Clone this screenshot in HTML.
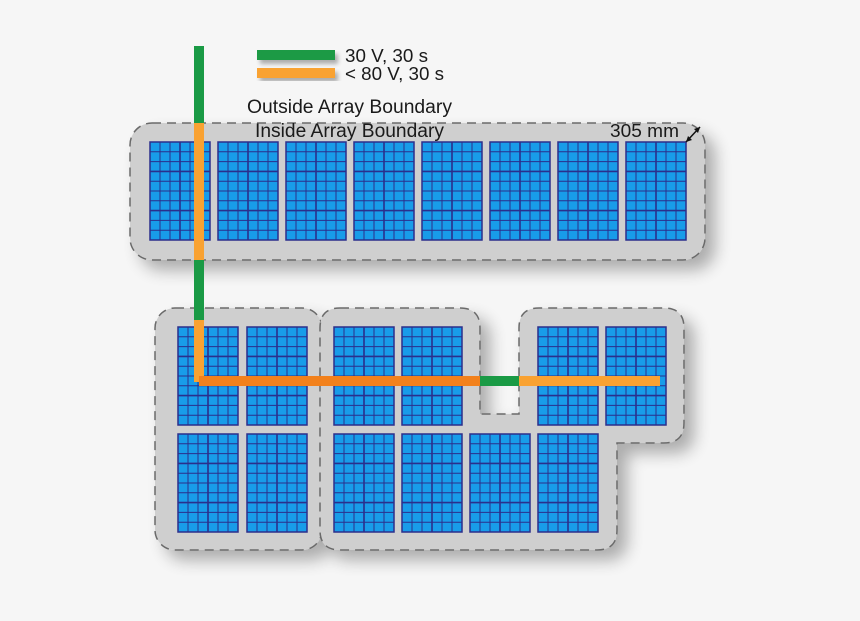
<!DOCTYPE html>
<html><head><style>
html,body{margin:0;padding:0;background:#f6f6f6;}
svg{display:block}
text{font-family:"Liberation Sans",sans-serif;fill:#1a1a1a}
</style></head><body>
<svg width="860" height="621" viewBox="0 0 860 621" xmlns="http://www.w3.org/2000/svg">
<defs>
<filter id="sh" x="-10%" y="-10%" width="130%" height="130%">
<feGaussianBlur in="SourceAlpha" stdDeviation="8"/>
<feOffset dx="10" dy="10"/>
<feComponentTransfer><feFuncA type="linear" slope="0.3"/></feComponentTransfer>
<feMerge><feMergeNode/><feMergeNode in="SourceGraphic"/></feMerge>
</filter>
<filter id="ls"><feGaussianBlur in="SourceAlpha" stdDeviation="2"/><feOffset dx="3" dy="4"/><feComponentTransfer><feFuncA type="linear" slope="0.3"/></feComponentTransfer><feMerge><feMergeNode/><feMergeNode in="SourceGraphic"/></feMerge></filter>
<g id="p">
<rect x="0" y="0" width="60" height="98" fill="#189ce9" stroke="#2b2f8c" stroke-width="1.5"/>
<g stroke="#2b2f8c" stroke-width="1">
<line x1="10" y1="0" x2="10" y2="98"/><line x1="20" y1="0" x2="20" y2="98"/><line x1="30" y1="0" x2="30" y2="98" stroke-width="1.6"/><line x1="40" y1="0" x2="40" y2="98"/><line x1="50" y1="0" x2="50" y2="98"/>
<line x1="0" y1="9.8" x2="60" y2="9.8"/><line x1="0" y1="19.6" x2="60" y2="19.6"/><line x1="0" y1="29.4" x2="60" y2="29.4" stroke-width="1.6"/><line x1="0" y1="39.2" x2="60" y2="39.2"/><line x1="0" y1="49" x2="60" y2="49"/><line x1="0" y1="58.8" x2="60" y2="58.8"/><line x1="0" y1="68.6" x2="60" y2="68.6" stroke-width="1.6"/><line x1="0" y1="78.4" x2="60" y2="78.4"/><line x1="0" y1="88.2" x2="60" y2="88.2"/>
</g></g>
</defs>
<g fill="#cfcfcf" stroke="#6a6a6a" stroke-width="1.5" stroke-dasharray="9,6" filter="url(#sh)">
<rect x="130" y="123" width="575" height="137" rx="22"/>
<rect x="155" y="308" width="167" height="242" rx="20"/>
<path d="M340 308 H460 Q480 308 480 328 V414 H519 V328 Q519 308 539 308 H664 Q684 308 684 328 V423 Q684 443 664 443 H617 V530 Q617 550 597 550 H340 Q320 550 320 530 V328 Q320 308 340 308 Z"/>
</g>
<g>
<use href="#p" x="150" y="142"/><use href="#p" x="218" y="142"/><use href="#p" x="286" y="142"/><use href="#p" x="354" y="142"/><use href="#p" x="422" y="142"/><use href="#p" x="490" y="142"/><use href="#p" x="558" y="142"/><use href="#p" x="626" y="142"/>
<use href="#p" x="178" y="327"/><use href="#p" x="247" y="327"/><use href="#p" x="334" y="327"/><use href="#p" x="402" y="327"/><use href="#p" x="538" y="327"/><use href="#p" x="606" y="327"/>
<use href="#p" x="178" y="434"/><use href="#p" x="247" y="434"/><use href="#p" x="334" y="434"/><use href="#p" x="402" y="434"/><use href="#p" x="470" y="434"/><use href="#p" x="538" y="434"/>
</g>
<rect x="194" y="46" width="10" height="78" fill="#1a9a45"/>
<rect x="194" y="123" width="10" height="138" fill="#f9a232"/>
<rect x="194" y="260" width="10" height="60" fill="#1a9a45"/>
<rect x="194" y="320" width="10" height="62" fill="#f9a232"/>
<rect x="199" y="376" width="281" height="10" fill="#f2811c"/>
<rect x="480" y="376" width="39" height="10" fill="#1a9a45"/>
<rect x="519" y="376" width="141" height="10" fill="#f9a232"/>
<g filter="url(#ls)">
<rect x="257" y="50" width="78" height="10" fill="#1a9a45"/>
<rect x="257" y="68" width="78" height="10" fill="#f9a232"/>
</g>
<text x="345" y="62" font-size="18" textLength="83" lengthAdjust="spacingAndGlyphs">30  V, 30 s</text>
<text x="345" y="80" font-size="18" textLength="99" lengthAdjust="spacingAndGlyphs">&lt; 80  V, 30 s</text>
<text x="247" y="113" font-size="19" textLength="205" lengthAdjust="spacingAndGlyphs">Outside Array Boundary</text>
<text x="255" y="137" font-size="19" textLength="189" lengthAdjust="spacingAndGlyphs">Inside Array Boundary</text>
<text x="610" y="137" font-size="18" textLength="69" lengthAdjust="spacingAndGlyphs">305 mm</text>
<line x1="686" y1="142" x2="700" y2="127" stroke="#111" stroke-width="1.5"/>
<path d="M686 142 l2 -6 l4 4 z M700 127 l-2 6 l-4 -4 z" fill="#111"/>
</svg>
</body></html>
